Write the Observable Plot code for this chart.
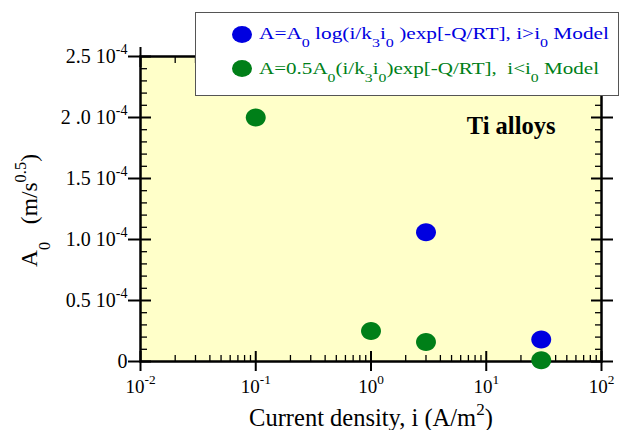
<!DOCTYPE html>
<html><head><meta charset="utf-8">
<script src="https://cdn.jsdelivr.net/npm/d3@7"></script>
<script src="https://cdn.jsdelivr.net/npm/@observablehq/plot@0.6"></script>
<style>
body{margin:0;background:#fff;}
#wrap{position:relative;width:625px;height:430px;}
#legend{position:absolute;left:195px;top:12px;width:424px;height:84px;background:#fff;border:1px solid #555;box-sizing:border-box;font-family:"Liberation Serif","Times New Roman",serif;font-size:17.5px;}
.row{position:absolute;left:63px;white-space:pre;line-height:17px;transform-origin:0 0;}
.mk{position:absolute;left:36px;width:20px;height:17px;border-radius:50%;}
.sb{font-size:0.75em;position:relative;top:0.6em;}
</style>
</head><body><div id="wrap"><div id="legend"></div></div>
<script>
// ---- data ----
const seriesNames = ["i > i0 model", "i < i0 model"];
const seriesColors = ["#0000e0", "#007f18"];
const blueCurrent = [3, 30];
const blueA0 = [1.06e-4, 0.18e-4];
const greenCurrent = [0.1, 1, 3, 30];
const greenA0 = [2.0e-4, 0.25e-4, 0.16e-4, 0.01e-4];
const legendLabels = [
  "A=A_{0} log(i/k_{3}i_{0} )exp[-Q/RT], i>i_{0} Model",
  "A=0.5A_{0}(i/k_{3}i_{0})exp[-Q/RT],  i<i_{0} Model"
];
const xTicks = [0.01, 0.1, 1, 10, 100];
const xTickLabels = ["10^{-2}", "10^{-1}", "10^{0}", "10^{1}", "10^{2}"];
const yTicks = [0, 0.5e-4, 1.0e-4, 1.5e-4, 2.0e-4, 2.5e-4];
const yTickLabels = ["0", "0.5 10^{-4}", "1.0 10^{-4}", "1.5 10^{-4}", "2 .0 10^{-4}", "2.5 10^{-4}"];
const xLabel = ["Current density, i (A/m^{2})"];
const yLabel = ["A_{0}   (m/s^{0.5})"];
const annotation = ["Ti alloys"];

// ---- derived ----
const xMinor = xTicks.slice(0, -1).flatMap(d => [2,3,4,5,6,7,8,9].map(k => d * k));
const yMinor = yTicks.slice(0, -1).flatMap(d => [1,2,3,4].map(k => d + k * 0.1e-4));
const blueData = blueCurrent.map((c, k) => ({i: c, A: blueA0[k]}));
const greenData = greenCurrent.map((c, k) => ({i: c, A: greenA0[k]}));

const ellipse = {draw(ctx, size) {
  const r = Math.sqrt(size / Math.PI), rx = r * 1.05, ry = r * 0.95, k = 0.5523;
  ctx.moveTo(rx, 0);
  ctx.bezierCurveTo(rx, ry * k, rx * k, ry, 0, ry);
  ctx.bezierCurveTo(-rx * k, ry, -rx, ry * k, -rx, 0);
  ctx.bezierCurveTo(-rx, -ry * k, -rx * k, -ry, 0, -ry);
  ctx.bezierCurveTo(rx * k, -ry, rx, -ry * k, rx, 0);
  ctx.closePath();
}};

const font = "'Liberation Serif', 'Times New Roman', serif";
const tk = {fill: "none", label: null, strokeWidth: 2};
const tkm = {fill: "none", label: null, strokeWidth: 1.3};

const plot = Plot.plot({
  width: 625, height: 430,
  marginLeft: 140, marginRight: 24, marginTop: 56, marginBottom: 69,
  style: {fontFamily: font, fontSize: "19px", background: "transparent", color: "black"},
  x: {type: "log", domain: [0.01, 100]},
  y: {domain: [0, 2.5e-4]},
  marks: [
    Plot.frame({fill: "#ffffc9", stroke: "none"}),
    // left
    Plot.axisY(yTicks, {anchor: "left", tickSize: 12, tickPadding: 1, fontSize: 20, label: null, strokeWidth: 2,
      tickFormat: d => yTickLabels[yTicks.indexOf(d)]}),
    Plot.axisY(yTicks, {anchor: "left", tickSize: 11, dx: 11, ...tk}),
    Plot.axisY(yMinor, {anchor: "left", tickSize: 7, dx: 7, ...tkm}),
    // right
    Plot.axisY(yTicks, {anchor: "right", tickSize: 11, ...tk}),
    Plot.axisY(yTicks, {anchor: "right", tickSize: 11, dx: -11, ...tk}),
    Plot.axisY(yMinor, {anchor: "right", tickSize: 7, dx: -7, ...tkm}),
    // bottom
    Plot.axisX(xTicks, {anchor: "bottom", tickSize: 10, tickPadding: 8, fontSize: 19, label: null, strokeWidth: 2,
      tickFormat: d => xTickLabels[xTicks.indexOf(d)]}),
    Plot.axisX(xTicks, {anchor: "bottom", tickSize: 10, dy: -10, ...tk}),
    Plot.axisX(xMinor, {anchor: "bottom", tickSize: 6, dy: -6, ...tkm}),
    // top
    Plot.axisX(xTicks, {anchor: "top", tickSize: 10, ...tk}),
    Plot.axisX(xTicks, {anchor: "top", tickSize: 10, dy: 10, ...tk}),
    Plot.axisX(xMinor, {anchor: "top", tickSize: 6, dy: 6, ...tkm}),
    Plot.frame({stroke: "black", strokeWidth: 2.5, fill: "none"}),
    Plot.dot(blueData, {x: "i", y: "A", r: 9.5, symbol: ellipse, fill: seriesColors[0], stroke: "none"}),
    Plot.dot(greenData, {x: "i", y: "A", r: 9.5, symbol: ellipse, fill: seriesColors[1], stroke: "none"}),
    Plot.text(annotation, {text: d => d, frameAnchor: "top-right", textAnchor: "end", lineAnchor: "middle",
      dx: -46, dy: 69.5, fontSize: 24.5, fontWeight: "bold"}),
    Plot.text(xLabel, {text: d => d, frameAnchor: "bottom", textAnchor: "middle", lineAnchor: "middle",
      dy: 56.5, fontSize: 24.5}),
    Plot.text(yLabel, {text: d => d, frameAnchor: "left", rotate: -90, textAnchor: "middle", lineAnchor: "middle",
      dx: -111, dy: 1.5, fontSize: 23.5})
  ]
});

const wrap = document.getElementById("wrap");
wrap.insertBefore(plot, wrap.firstChild);

const SVGNS = "http://www.w3.org/2000/svg";
function richify(t) {
  const s = t.textContent;
  if (!/[\^_]\{/.test(s)) return;
  const fsz = parseFloat(getComputedStyle(t).fontSize);
  const parts = s.split(/([\^_]\{[^}]*\})/).filter(p => p);
  t.textContent = "";
  t.setAttribute("xml:space", "preserve");
  t.style.whiteSpace = "pre";
  let shift = 0;
  for (const p of parts) {
    const ts = document.createElementNS(SVGNS, "tspan");
    let target = 0, txt = p;
    if (p.startsWith("^{")) { target = -0.45 * fsz; txt = p.slice(2, -1); ts.setAttribute("font-size", 0.7 * fsz); }
    else if (p.startsWith("_{")) { target = 0.55 * fsz; txt = p.slice(2, -1); ts.setAttribute("font-size", 0.7 * fsz); }
    if (target - shift !== 0) ts.setAttribute("dy", target - shift);
    shift = target;
    ts.textContent = txt;
    t.appendChild(ts);
  }
}
plot.querySelectorAll("text").forEach(richify);

// legend
const legend = document.getElementById("legend");
const rowTops = [12, 47], markTops = [13, 47], rowWidths = [350, 340];
legendLabels.forEach((lab, k) => {
  const mk = document.createElement("div");
  mk.className = "mk";
  mk.style.top = markTops[k] + "px";
  mk.style.background = seriesColors[k];
  legend.appendChild(mk);
  const row = document.createElement("span");
  row.className = "row";
  row.style.top = rowTops[k] + "px";
  row.style.color = seriesColors[k];
  lab.split(/(_\{[^}]*\})/).filter(p => p).forEach(p => {
    const sp = document.createElement("span");
    if (p.startsWith("_{")) { sp.className = "sb"; sp.textContent = p.slice(2, -1); }
    else sp.textContent = p;
    row.appendChild(sp);
  });
  legend.appendChild(row);
  const w = row.getBoundingClientRect().width;
  row.style.transform = `scaleX(${rowWidths[k] / w})`;
});
</script>
</body></html>
